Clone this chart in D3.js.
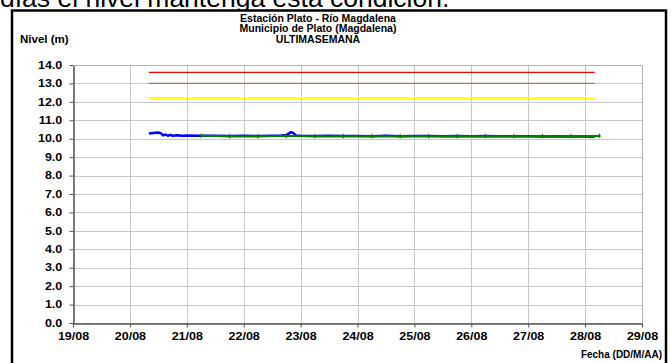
<!DOCTYPE html>
<html>
<head>
<meta charset="utf-8">
<script src="https://cdn.jsdelivr.net/npm/d3@7"></script>
<style>
	body { margin: 0; background: #fff; }
	svg { display: block; font-family: Arial, "Liberation Sans", sans-serif; }
</style>
</head>
<body>
<svg id="chart"></svg>
<script>
// chart data
const titleLines = ["Estación Plato - Río Magdalena", "Municipio de Plato (Magdalena)", "ULTIMASEMANA"];
const xTickLabels = ["19/08", "20/08", "21/08", "22/08", "23/08", "24/08", "25/08", "26/08", "27/08", "28/08", "29/08"];
const yTicks = [0, 1, 2, 3, 4, 5, 6, 7, 8, 9, 10, 11, 12, 13, 14];

// threshold lines (value, start, end)
const thresholds = [
	{ name: "roja", value: 13.6, from: "20/08 08:00", to: "28/08 04:00" },
	{ name: "naranja", value: 13.0, from: "20/08 08:00", to: "28/08 04:00" },
	{ name: "amarilla", value: 12.2, from: "20/08 08:00", to: "28/08 04:00" },
];

// blue series (sensor)
const blueTimes = [
	"20/08 08:00", "20/08 10:00", "20/08 12:00", "20/08 13:00", "20/08 14:00", "20/08 15:00",
	"20/08 16:00", "20/08 17:00", "20/08 18:00", "20/08 20:00", "20/08 22:00", "21/08 00:00",
	"21/08 06:00", "21/08 12:00", "21/08 18:00", "22/08 00:00", "22/08 06:00", "22/08 12:00",
	"22/08 16:00", "22/08 18:00", "22/08 20:00", "22/08 21:00", "22/08 22:00", "23/08 00:00",
	"23/08 06:00", "23/08 12:00", "23/08 18:00", "24/08 00:00", "24/08 06:00", "24/08 12:00",
	"24/08 18:00", "25/08 00:00", "25/08 06:00", "25/08 12:00", "25/08 18:00", "26/08 00:00",
	"26/08 06:00", "26/08 12:00", "26/08 18:00", "27/08 00:00", "27/08 06:00", "27/08 12:00",
	"27/08 18:00", "28/08 00:00", "28/08 04:00",
];
const blueValues = [
	10.28, 10.31, 10.34, 10.30, 10.18, 10.23,
	10.16, 10.21, 10.16, 10.19, 10.16, 10.17,
	10.16, 10.16, 10.15, 10.16, 10.15, 10.16,
	10.17, 10.20, 10.36, 10.30, 10.17, 10.16,
	10.15, 10.16, 10.15, 10.15, 10.14, 10.16,
	10.14, 10.15, 10.15, 10.13, 10.15, 10.14,
	10.15, 10.13, 10.14, 10.14, 10.12, 10.13,
	10.12, 10.12, 10.11,
];

// green series (manual readings, every 12 h)
const greenTimes = [
	"21/08 06:00", "21/08 18:00", "22/08 06:00", "22/08 18:00", "23/08 06:00",
	"23/08 18:00", "24/08 06:00", "24/08 18:00", "25/08 06:00", "25/08 18:00",
	"26/08 06:00", "26/08 18:00", "27/08 06:00", "27/08 18:00", "28/08 06:00",
];
const greenValues = [
	10.16, 10.14, 10.14, 10.15, 10.14,
	10.14, 10.14, 10.14, 10.14, 10.14,
	10.14, 10.14, 10.14, 10.14, 10.15,
];

// "DD/MM HH:mm" -> Date
const parseTime = d3.timeParse("%d/%m %H:%M");
const parseDay = d3.timeParse("%d/%m");

document.addEventListener("DOMContentLoaded", function () {
	const w = 672;
	const h = 363;
	const svg = d3.select("#chart").attr("width", w).attr("height", h);

	const plot = { left: 73, right: 642, top: 65, bottom: 323 };
	const fs = 10.5; // title font size

	const xScale = d3
		.scaleTime()
		.domain([parseDay(xTickLabels[0]), parseDay(xTickLabels[xTickLabels.length - 1])])
		.range([plot.left, plot.right]);
	const yScale = d3.scaleLinear().domain([0, 14]).range([plot.bottom, plot.top]);

	// text from the page behind the chart, cut at the top
	svg.append("text")
		.attr("x", 0)
		.attr("y", 7)
		.attr("font-size", 26.5)
		.attr("fill", "#000")
		.text("días el nivel mantenga esta condición.");

	// outer frame
	svg.append("rect")
		.attr("x", 12)
		.attr("y", 10.5)
		.attr("width", 654)
		.attr("height", 380)
		.attr("fill", "#fff")
		.attr("stroke", "#000")
		.attr("stroke-width", 2.5);

	// titles
	svg.append("g")
		.selectAll("text")
		.data(titleLines)
		.enter()
		.append("text")
		.attr("x", 318)
		.attr("y", (d, i) => 21.5 + i * 10.5)
		.attr("text-anchor", "middle")
		.attr("font-size", fs)
		.attr("font-weight", "bold")
		.text((d) => d);

	svg.append("text")
		.attr("x", 20)
		.attr("y", 43)
		.attr("font-size", fs)
		.attr("font-weight", "bold")
		.attr("transform", "translate(20,0) scale(1.1,1) translate(-20,0)")
		.text("Nivel (m)");

	// grid
	const grid = svg.append("g").attr("stroke", "#c8c8c8").attr("stroke-width", 1);
	grid.selectAll(".hg")
		.data(yTicks)
		.enter()
		.append("line")
		.attr("x1", plot.left)
		.attr("x2", plot.right)
		.attr("y1", (d) => Math.round(yScale(d)) + 0.5)
		.attr("y2", (d) => Math.round(yScale(d)) + 0.5);
	grid.selectAll(".vg")
		.data(xTickLabels)
		.enter()
		.append("line")
		.attr("x1", (d) => Math.round(xScale(parseDay(d))) + 0.5)
		.attr("x2", (d) => Math.round(xScale(parseDay(d))) + 0.5)
		.attr("y1", plot.top)
		.attr("y2", plot.bottom);

	// axes
	const yAxis = d3.axisLeft(yScale).tickValues(yTicks).tickFormat(d3.format(".1f")).tickSize(4).tickSizeOuter(0);
	const xAxis = d3
		.axisBottom(xScale)
		.tickValues(xTickLabels.map(parseDay))
		.tickFormat(d3.timeFormat("%d/%m"))
		.tickSize(4)
		.tickSizeOuter(0);

	const gy = svg.append("g")
		.attr("transform", "translate(" + (plot.left + 0.5) + ",0)")
		.call(yAxis);
	const gx = svg.append("g")
		.attr("transform", "translate(0," + (plot.bottom + 0.5) + ")")
		.call(xAxis);

	[gy, gx].forEach((g) => {
		g.select(".domain").attr("stroke", "#555").attr("stroke-width", 1.5);
		g.selectAll(".tick line").attr("stroke", "#555");
		g.selectAll(".tick text")
			.attr("fill", "#000")
			.attr("font-size", 10)
			.attr("font-weight", "bold")
			.attr("font-family", "Arial, 'Liberation Sans', sans-serif")
			.attr("transform", "scale(1.25,1)"); // labels are drawn wide in the original
	});
	gy.selectAll(".tick text").attr("x", -9);
	gx.selectAll(".tick text").attr("y", 9);

	svg.append("text")
		.attr("x", 662)
		.attr("y", 358)
		.attr("text-anchor", "end")
		.attr("font-size", 10)
		.attr("font-weight", "bold")
		.text("Fecha (DD/M/AA)");

	// threshold lines
	const thColors = { roja: "#ff0000", naranja: "#9c7a5a", amarilla: "#ffff00" };
	svg.append("g")
		.selectAll("line")
		.data(thresholds)
		.enter()
		.append("line")
		.attr("x1", (d) => xScale(parseTime(d.from)))
		.attr("x2", (d) => xScale(parseTime(d.to)))
		.attr("y1", (d) => yScale(d.value))
		.attr("y2", (d) => yScale(d.value))
		.attr("stroke", (d) => thColors[d.name])
		.attr("stroke-width", (d) => (d.name === "amarilla" ? 2 : 1.3));

	const line = d3
		.line()
		.x((d) => xScale(d[0]))
		.y((d) => yScale(d[1]));

	// blue series
	const blue = blueTimes.map((t, i) => [parseTime(t), blueValues[i]]);
	svg.append("path")
		.datum(blue)
		.attr("fill", "none")
		.attr("stroke", "#0000ff")
		.attr("stroke-width", 2.5)
		.attr("stroke-linejoin", "round")
		.attr("d", line);

	// green series with small markers
	const green = greenTimes.map((t, i) => [parseTime(t), greenValues[i]]);
	svg.append("path")
		.datum(green)
		.attr("fill", "none")
		.attr("stroke", "#008000")
		.attr("stroke-width", 2)
		.attr("d", line);
	svg.append("g")
		.selectAll("path")
		.data(green)
		.enter()
		.append("path")
		.attr("d", d3.symbol().type(d3.symbolDiamond).size(8))
		.attr("transform", (d) => "translate(" + xScale(d[0]) + "," + yScale(d[1]) + ")")
		.attr("fill", "#008000");

	// light top/right border of plot area
	svg.append("path")
		.attr("d", "M" + (plot.left) + "," + (plot.top + 0.5) + "H" + (plot.right + 0.5) + "V" + plot.bottom)
		.attr("fill", "none")
		.attr("stroke", "#b4b4b4")
		.attr("stroke-width", 1);
});
</script>
</body>
</html>
